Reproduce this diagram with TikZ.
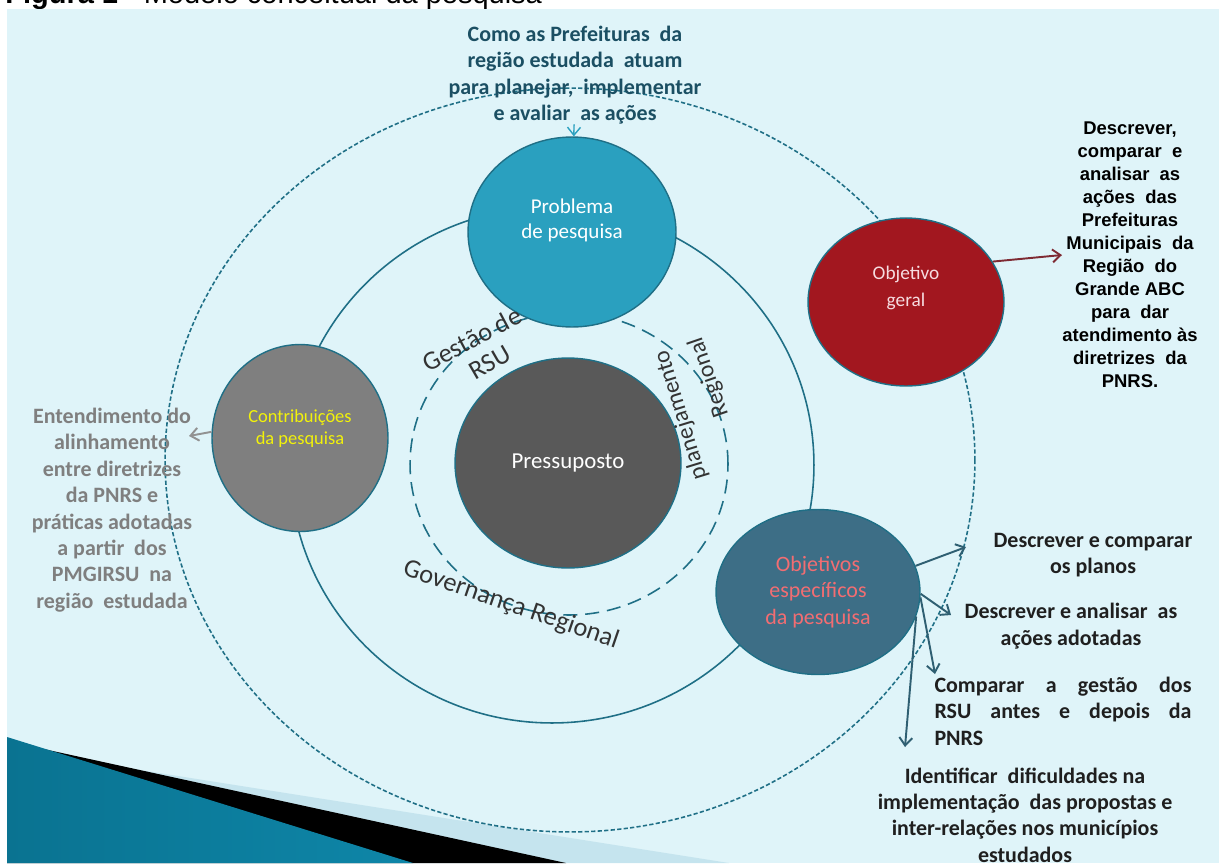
\documentclass[tikz,border=0pt]{standalone}
\usepackage{fontspec}
\setmainfont{Carlito}
\newfontfamily\arialfont{Liberation Sans}
\usetikzlibrary{positioning, arrows.meta, shapes.geometric}

\definecolor{paper}{HTML}{DFF4F9}
\definecolor{ringline}{HTML}{1F6F86}
\definecolor{probfill}{HTML}{2AA0BF}
\definecolor{geralfill}{HTML}{A2171F}
\definecolor{geralink}{HTML}{F6DCE0}
\definecolor{geralarrow}{HTML}{7E2A33}
\definecolor{contribfill}{HTML}{7F7F7F}
\definecolor{contribink}{HTML}{F2F20A}
\definecolor{pressfill}{HTML}{595959}
\definecolor{especfill}{HTML}{3D6E86}
\definecolor{especink}{HTML}{F26D72}
\definecolor{especarrow}{HTML}{2F5F72}
\definecolor{questionink}{HTML}{1B4F63}
\definecolor{wedgepale}{HTML}{C5E4EE}
\definecolor{wedgedark}{HTML}{0A7391}
\definecolor{wedgelight}{HTML}{5BB9DA}
\definecolor{wedgemid}{HTML}{0E86A8}

\tikzset{
  > = {Straight Barb[length = 1.6mm, width = 2.6mm]},
  bubble/.style = {ellipse, draw = ringline, line width = 0.8pt, inner sep = 0pt},
  bubbleword/.style = {inner sep = 0pt, align = center, text = white},
  remark/.style = {inner sep = 0pt, align = center, text = black!88,
    font = \bfseries\fontsize{12.5}{15}\selectfont},
  arcword/.style = {inner sep = 0pt, text = black!80, font = \fontsize{15}{16}\selectfont},
  link/.style = {->, line width = 1.1pt},
  ring/.style = {draw = ringline, line width = 0.9pt},
  dashring/.style = {ring, dash pattern = on 2.4pt off 1.3pt}
}

\begin{document}
\begin{tikzpicture}[x = 0.02cm, y = -0.02cm]

\useasboundingbox (0,0) rectangle (1219,863);
\clip (0,0) rectangle (1219,863);
\fill [white] (0,0) rectangle (1219,863);

\node [anchor = base west, inner sep = 0pt, font = \arialfont\fontsize{16.5}{19}\selectfont]
  (figcaption) at (5,3) {\textbf{Figura 1} - Modelo conceitual da pesquisa};
\fill [paper] (7,9) rectangle (1219,863);

% corner wedge
\fill [wedgepale] (7,749) -- (729,863) -- (7,863) -- cycle;
\fill [black] (7,741) -- (566,863) -- (7,863) -- cycle;
\shade [left color = wedgedark, middle color = wedgelight, right color = wedgemid]
  (7,737) -- (413,863) -- (7,863) -- cycle;

% rings
\draw [dashring] (570,460) ellipse [x radius = 8.1cm, y radius = 7.44cm];
\draw [ring] (552,465) ellipse [x radius = 5.24cm, y radius = 5.16cm];
\draw [ring, dash pattern = on 8pt off 4.5pt] (569,464) ellipse [x radius = 3.18cm, y radius = 3.02cm];

% bubbles
\node [bubble, fill = probfill, minimum width = 4.16cm, minimum height = 3.8cm] (prob) at (572,232) {};
\node [bubble, fill = geralfill, minimum width = 3.92cm, minimum height = 3.36cm] (geral) at (906,302) {};
\node [bubble, fill = contribfill, minimum width = 3.52cm, minimum height = 3.74cm] (contrib) at (300,438) {};
\node [bubble, fill = pressfill, minimum width = 4.52cm, minimum height = 4.2cm] (press) at (568,463) {};
\node [bubble, fill = especfill, minimum width = 4.08cm, minimum height = 3.3cm] (espec) at (818,592) {};

\node [bubbleword, font = \fontsize{12}{14.5}\selectfont] (probword)
  at ([yshift = 0.23cm] prob.center) {Problema\\de pesquisa};
\node [bubbleword, text = geralink, font = \fontsize{11}{15.3}\selectfont] (geralword)
  at ([yshift = 0.28cm] geral.center) {Objetivo\\geral};
\node [bubbleword, text = contribink, font = \fontsize{10.5}{12.5}\selectfont] (contribword)
  at ([yshift = 0.18cm] contrib.center) {Contribuições\\da pesquisa};
\node [bubbleword, font = \fontsize{13}{15}\selectfont] (pressword) at (press.center) {Pressuposto};
\node [bubbleword, text = especink, font = \fontsize{12.5}{15}\selectfont] (especword)
  at (espec.center) {Objetivos\\específicos\\da pesquisa};

% words around the core
\node [arcword, rotate = 28] (gestao) at (472,339) {Gestão de};
\node [arcword, rotate = 30] (rsu) at (490,362) {RSU};
\node [arcword, rotate = 107, font = \fontsize{13.5}{15}\selectfont] (plan) at (681,415) {planejamento};
\node [arcword, rotate = 109, font = \fontsize{13.5}{15}\selectfont] (regional) at (709,377) {Regional};
\node [arcword, rotate = -19] (governanca) at (511,605) {Governança Regional};

% remarks
\node [remark, text = questionink] (question) at (575,75)
  {Como as Prefeituras\ \ da\\região estudada\ \ atuam\\para planejar,\ \ implementar\\e avaliar\ \ as ações};
\node [remark, text = contribfill] (lefttext) at (112,510)
  {Entendimento do\\alinhamento\\entre diretrizes\\da PNRS e\\práticas adotadas\\a partir\ \ dos\\PMGIRSU\ \ na\\região\ \ estudada};
\node [remark, text = black, font = \arialfont\bfseries\fontsize{10.5}{13.1}\selectfont] (goaltext) at (1130,255)
  {Descrever,\\comparar\ \ e\\analisar\ \ as\\ações\ \ das\\Prefeituras\\Municipais\ \ da\\Região\ \ do\\Grande ABC\\para\ \ dar\\atendimento às\\diretrizes\ \ da\\PNRS.};
\node [remark] (descA) at (1093,555) {Descrever e comparar\\os planos};
\node [remark] (descB) at (1071,626) {Descrever e analisar\ \ as\\ações adotadas};
\node [remark, text width = 5.14cm, align = justify] (compare) at (1063,711)
  {Comparar a gestão dos\linebreak RSU antes e depois da\linebreak PNRS};
\node [remark] (ident) at (1025,815)
  {Identificar\ \ dificuldades na\\implementação\ \ das propostas e\\inter-relações nos municípios\\estudados};

% arrows
\coordinate (contribtip) at (189,436);
\coordinate (tipA) at (966,547);
\coordinate (tipB) at (951,615);
\coordinate (tipC) at (935,674);
\coordinate (tipD) at (905,747);

\draw [link, draw = probfill, line width = 0.8pt] (question) -- (prob);
\draw [link, draw = geralarrow] (geral.25) -- (goaltext.west);
\draw [link, draw = contribfill!85] (contrib.176) -- (contribtip);
\foreach \a/\t in {15/tipA, -1/tipB, -3/tipC, -14/tipD}
  \draw [link, draw = especarrow] (espec.\a) -- (\t);

\end{tikzpicture}
\end{document}
